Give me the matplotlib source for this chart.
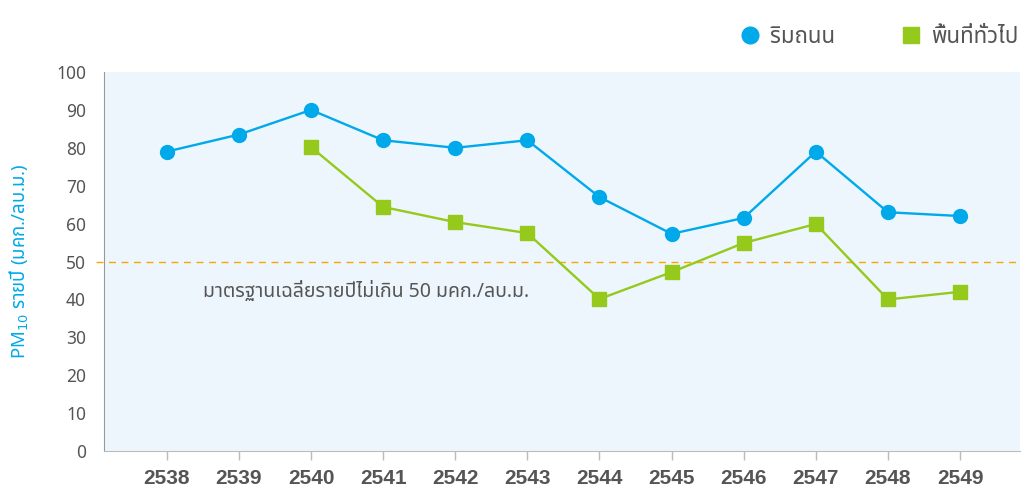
import matplotlib
matplotlib.use("Agg")
import matplotlib.pyplot as plt
from matplotlib.lines import Line2D

THAI = ["Noto Sans Thai", "DejaVu Sans"]
plt.rcParams['font.family'] = THAI

years = [2538, 2539, 2540, 2541, 2542, 2543, 2544, 2545, 2546, 2547, 2548, 2549]
roadside = [79, 83.5, 90, 82, 80, 82, 67, 57.3, 61.5, 79, 63, 62]
general_years = [2540, 2541, 2542, 2543, 2544, 2545, 2546, 2547, 2548, 2549]
general = [80.2, 64.4, 60.4, 57.5, 40.1, 47.2, 54.9, 59.9, 40, 42]
standard = 50

BLUE = '#00a9e9'
GREEN = '#95c91b'
GRAY = '#555555'

fig = plt.figure(figsize=(10.23, 4.9), dpi=100)
ax = fig.add_axes([0.1017, 0.0796, 0.8953, 0.7734])
ax.set_facecolor('#eef6fd')

ax.plot(years, roadside, color=BLUE, lw=1.7, marker='o', ms=10, zorder=3)
ax.plot(general_years, general, color=GREEN, lw=1.7, marker='s', ms=9.5, zorder=3)
ax.axhline(standard, xmin=-0.009, xmax=1, color='#f5a800', lw=1, ls=(0, (5, 4)),
           clip_on=False, zorder=2)
ax.text(2538.5, 42, "มาตรฐานเฉลี่ยรายปีไม่เกิน 50 มคก./ลบ.ม.", fontsize=14,
        color=GRAY, va='center', ha='left')

ax.set_xlim(2537.13, 2549.83)
ax.set_ylim(0, 100)
ax.set_xticks(years)
ax.set_xticklabels([str(y) for y in years], fontsize=15, fontweight='bold',
                   color=GRAY, family=['Liberation Sans'])
ax.set_yticks(range(0, 101, 10))
ax.set_yticks(range(0, 101, 20), minor=True)
ax.tick_params(axis='y', which='major', length=0, pad=13, labelsize=12.5, labelcolor=GRAY)
ax.tick_params(axis='y', which='minor', length=6, color='#999999', width=1)
ax.tick_params(axis='x', length=6.5, color='#bbbbbb', width=1, pad=6.5)

for s in ['top', 'right']:
    ax.spines[s].set_visible(False)
ax.spines['left'].set_color('#999999')
ax.spines['bottom'].set_color('#bbbbbb')

ax.set_ylabel("PM$_{10}$ รายปี (มคก./ลบ.ม.)", color=BLUE, fontsize=13.4, labelpad=18)

handles = [Line2D([], [], color=BLUE, marker='o', ls='none', ms=12),
           Line2D([], [], color=GREEN, marker='s', ls='none', ms=11)]
ax.legend(handles, ["ริมถนน", "พื้นที่ทั่วไป"], ncol=2, frameon=False, loc='lower right',
          bbox_to_anchor=(1.008, 1.04), handlelength=1, handletextpad=0.4,
          columnspacing=2.9, borderaxespad=0, labelcolor=GRAY,
          prop={'size': 16, 'family': THAI})

fig.savefig("out.png", dpi=100)
